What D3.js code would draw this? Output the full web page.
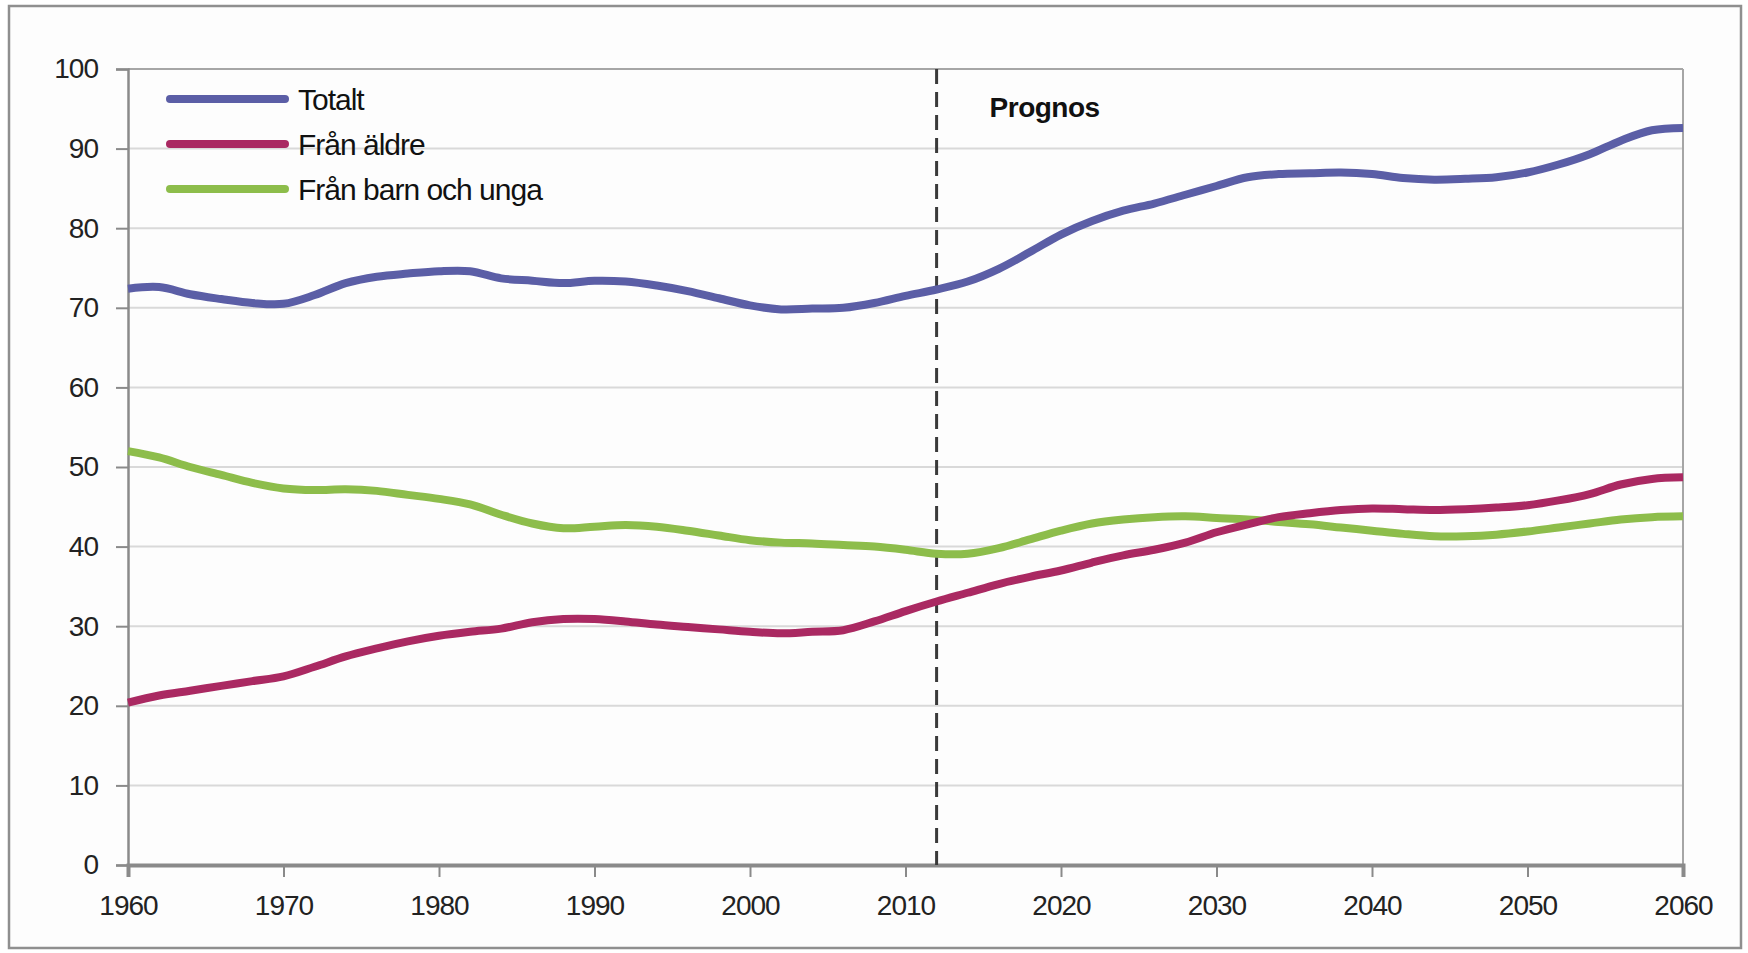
<!DOCTYPE html>
<html>
<head>
<meta charset="utf-8">
<script src="https://cdn.jsdelivr.net/npm/d3@7"></script>
<style>
  body { margin: 0; background: #ffffff; }
  .tick text { font-family: "Liberation Sans", Arial, sans-serif; }
</style>
</head>
<body>
<div id="chart"></div>
<script>
// values, every second year
var years = d3.range(1960, 2061, 2);

var totalt = [72.4, 72.6, 71.7, 71.1, 70.6, 70.5, 71.6, 73.1, 73.9, 74.3,
              74.6, 74.6, 73.7, 73.4, 73.1, 73.4, 73.3, 72.8, 72.1, 71.2,
              70.3, 69.8, 69.9, 70.0, 70.6, 71.5, 72.3, 73.3, 74.9, 77.0,
              79.2, 80.9, 82.2, 83.1, 84.2, 85.3, 86.4, 86.8, 86.9, 87.0,
              86.8, 86.3, 86.1, 86.2, 86.4, 87.0, 88.0, 89.3, 91.0, 92.3,
              92.6];

var franAldre = [20.4, 21.3, 21.9, 22.5, 23.1, 23.7, 24.9, 26.2, 27.2, 28.1,
                 28.8, 29.3, 29.7, 30.5, 30.9, 30.9, 30.6, 30.2, 29.9, 29.6,
                 29.3, 29.1, 29.3, 29.5, 30.6, 31.9, 33.1, 34.2, 35.3, 36.2,
                 37.0, 38.0, 38.9, 39.6, 40.5, 41.8, 42.8, 43.7, 44.2, 44.6,
                 44.8, 44.7, 44.6, 44.7, 44.9, 45.2, 45.8, 46.6, 47.8, 48.5,
                 48.7];

var franBarn = [52.0, 51.2, 50.0, 49.0, 48.0, 47.3, 47.1, 47.2, 47.0, 46.5,
                46.0, 45.3, 44.0, 42.9, 42.3, 42.5, 42.7, 42.5, 42.0, 41.4,
                40.8, 40.5, 40.4, 40.2, 40.0, 39.6, 39.1, 39.1, 39.8, 40.9,
                42.0, 42.9, 43.4, 43.7, 43.8, 43.6, 43.4, 43.1, 42.8, 42.4,
                42.0, 41.6, 41.3, 41.3, 41.5, 41.9, 42.4, 42.9, 43.4, 43.7,
                43.8];

var seriesNames = ["Totalt", "Från äldre", "Från barn och unga"];
var seriesColors = ["#5b5ea6", "#aa2962", "#8dbd4b"];
var xTicks = d3.range(1960, 2061, 10);
var yTicks = d3.range(0, 101, 10);
var prognosYear = 2012;
var prognosLabel = "Prognos";

document.addEventListener('DOMContentLoaded', function() {
  drawChart();
});

function drawChart(){
    var W = 1748, H = 953;
    var margin = {top: 69, right: 65, bottom: 88, left: 128},
        width = W - margin.left - margin.right,
        height = H - margin.top - margin.bottom;

    var svg0 = d3.select("#chart")
        .append("svg")
        .attr("width", W)
        .attr("height", H);

    // outer frame
    svg0.append("rect")
        .attr("x", 9).attr("y", 6)
        .attr("width", 1732).attr("height", 942)
        .attr("fill", "#fdfdfd")
        .attr("stroke", "#8f8f8f")
        .attr("stroke-width", 2.5);

    var svg = svg0.append("g")
        .attr("transform", "translate(" + margin.left + "," + margin.top + ")");

    var x = d3.scaleLinear().domain([1960, 2060]).range([0, width]);
    var y = d3.scaleLinear().domain([0, 100]).range([height, 0]);

    // grid lines
    svg.append("g")
      .selectAll("line")
      .data(yTicks.filter(function(d) { return d > 0; }))
      .enter().append("line")
        .attr("x1", 0).attr("x2", width)
        .attr("y1", function(d) { return y(d); })
        .attr("y2", function(d) { return y(d); })
        .attr("stroke", function(d) { return d == 100 ? "#a6a6a6" : "#d9d9d9"; })
        .attr("stroke-width", 2);

    // right border of the plot area
    svg.append("line")
        .attr("x1", width).attr("x2", width)
        .attr("y1", 0).attr("y2", height)
        .attr("stroke", "#a6a6a6")
        .attr("stroke-width", 2);

    // Y axis
    var yAxis = svg.append("g")
        .call(d3.axisLeft(y).tickValues(yTicks).tickSize(12).tickPadding(18));
    yAxis.select(".domain").attr("stroke", "#8a8a8a").attr("stroke-width", 2.5);
    yAxis.selectAll(".tick line").attr("stroke", "#8a8a8a").attr("stroke-width", 2);
    yAxis.selectAll(".tick text")
        .attr("fill", "#222")
        .style("font-size", "28px")
        .style("letter-spacing", "-1px");

    // X axis
    var xAxis = svg.append("g")
        .attr("transform", "translate(0," + height + ")")
        .call(d3.axisBottom(x).tickValues(xTicks).tickFormat(d3.format("d")).tickSize(12).tickPadding(18));
    xAxis.select(".domain").attr("stroke", "#8a8a8a").attr("stroke-width", 4);
    xAxis.selectAll(".tick line").attr("stroke", "#8a8a8a").attr("stroke-width", 2);
    xAxis.selectAll(".tick text")
        .attr("fill", "#222")
        .style("font-size", "28px")
        .style("letter-spacing", "-1px");

    // prognosis divider
    svg.append("line")
        .attr("x1", x(prognosYear)).attr("x2", x(prognosYear))
        .attr("y1", 0).attr("y2", height)
        .attr("stroke", "#3a3a3a")
        .attr("stroke-width", 3)
        .attr("stroke-dasharray", "15,8");

    svg.append("text")
        .attr("x", x(prognosYear) + 53)
        .attr("y", 48)
        .style("font-family", "Liberation Sans, Arial, sans-serif")
        .style("font-size", "28px")
        .style("font-weight", "bold")
        .style("letter-spacing", "-0.5px")
        .attr("fill", "#111")
        .text(prognosLabel);

    var allSeries = [totalt, franAldre, franBarn];

    var valueline = d3.line()
        .x(function(d, i) { return x(years[i]); })
        .y(function(d) { return y(d); })
        .curve(d3.curveCatmullRom.alpha(0.5));

    // draw green first, then pink, then blue on top
    [2, 1, 0].forEach(function(k) {
      svg.append("path")
        .datum(allSeries[k])
        .attr("fill", "none")
        .attr("stroke", seriesColors[k])
        .attr("stroke-width", 8)
        .attr("stroke-linejoin", "round")
        .attr("d", valueline);
    });

    // legend
    var legend = svg0.append("g");
    seriesNames.forEach(function(name, i) {
      var ly = 99 + i * 45;
      legend.append("line")
        .attr("x1", 170).attr("x2", 285)
        .attr("y1", ly).attr("y2", ly)
        .attr("stroke", seriesColors[i])
        .attr("stroke-width", 8)
        .attr("stroke-linecap", "round");
      legend.append("text")
        .attr("x", 298)
        .attr("y", ly)
        .attr("dy", "0.35em")
        .style("font-family", "Liberation Sans, Arial, sans-serif")
        .style("font-size", "30px")
        .style("letter-spacing", "-1px")
        .attr("fill", "#111")
        .text(name);
    });
}
</script>
</body>
</html>
